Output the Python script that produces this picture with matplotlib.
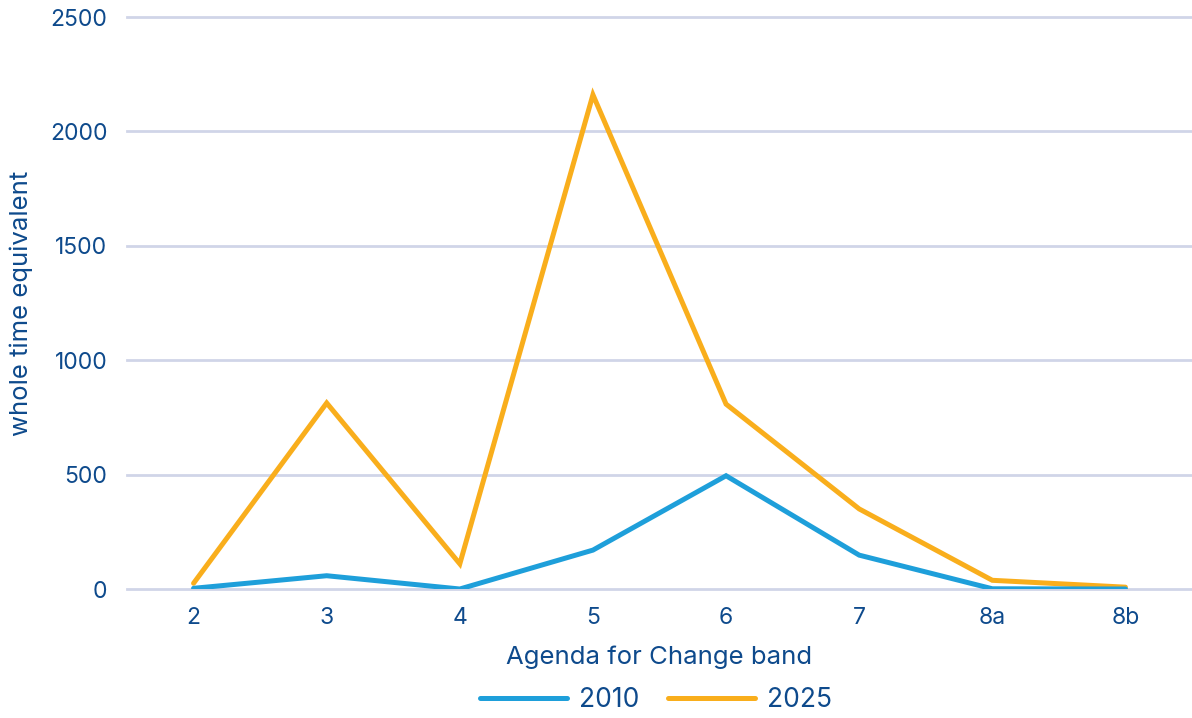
import matplotlib
matplotlib.use("Agg")
import matplotlib.pyplot as plt
from matplotlib.lines import Line2D

bands = ["2", "3", "4", "5", "6", "7", "8a", "8b"]
wte_2010 = [3, 58, 0, 170, 495, 148, 1, 0]
wte_2025 = [25, 813, 110, 2160, 808, 350, 38, 8]

text_color = "#0E4A8C"
blue = "#1E9FDA"
orange = "#F9AE1C"
grid_color = "#D0D5E8"

plt.rcParams["font.family"] = ["Inter", "DejaVu Sans"]

fig = plt.figure(figsize=(11.92, 7.18), dpi=100)
ax = fig.add_axes([127 / 1192, 1 - 589 / 718, 1 - 127 / 1192, (589 - 17) / 718])

x = list(range(len(bands)))
ax.plot(x, wte_2010, color=blue, lw=3.6, solid_capstyle="round", solid_joinstyle="miter", zorder=3)
ax.plot(x, wte_2025, color=orange, lw=3.6, solid_capstyle="round", solid_joinstyle="miter", zorder=2)

ax.set_xlim(-0.5, len(bands) - 0.5)
ax.set_ylim(0, 2500)
ax.set_yticks(range(0, 2501, 500))
ax.set_xticks(x)
ax.set_xticklabels(bands)

ax.grid(axis="y", color=grid_color, lw=2)
ax.set_axisbelow(True)
for gl in ax.get_ygridlines():
    gl.set_clip_on(False)
for s in ax.spines.values():
    s.set_visible(False)
ax.tick_params(axis="both", length=0, labelsize=16.5, labelcolor=text_color)
ax.tick_params(axis="x", pad=13)
ax.tick_params(axis="y", pad=14)

ax.set_xlabel("Agenda for Change band", fontsize=18.5, color=text_color, labelpad=12)
ax.set_ylabel("whole time equivalent", fontsize=18.5, color=text_color, labelpad=12)

handles = [
    Line2D([], [], color=blue, lw=3.6, solid_capstyle="round"),
    Line2D([], [], color=orange, lw=3.6, solid_capstyle="round"),
]
leg = fig.legend(handles, ["2010", "2025"], loc="center", bbox_to_anchor=(656 / 1192, 1 - 700 / 718),
                 ncol=2, frameon=False, fontsize=19, handlelength=3.3, columnspacing=1.1,
                 handletextpad=0.45, borderpad=0, borderaxespad=0)
for t in leg.get_texts():
    t.set_color(text_color)

fig.savefig("out.png", dpi=100)
